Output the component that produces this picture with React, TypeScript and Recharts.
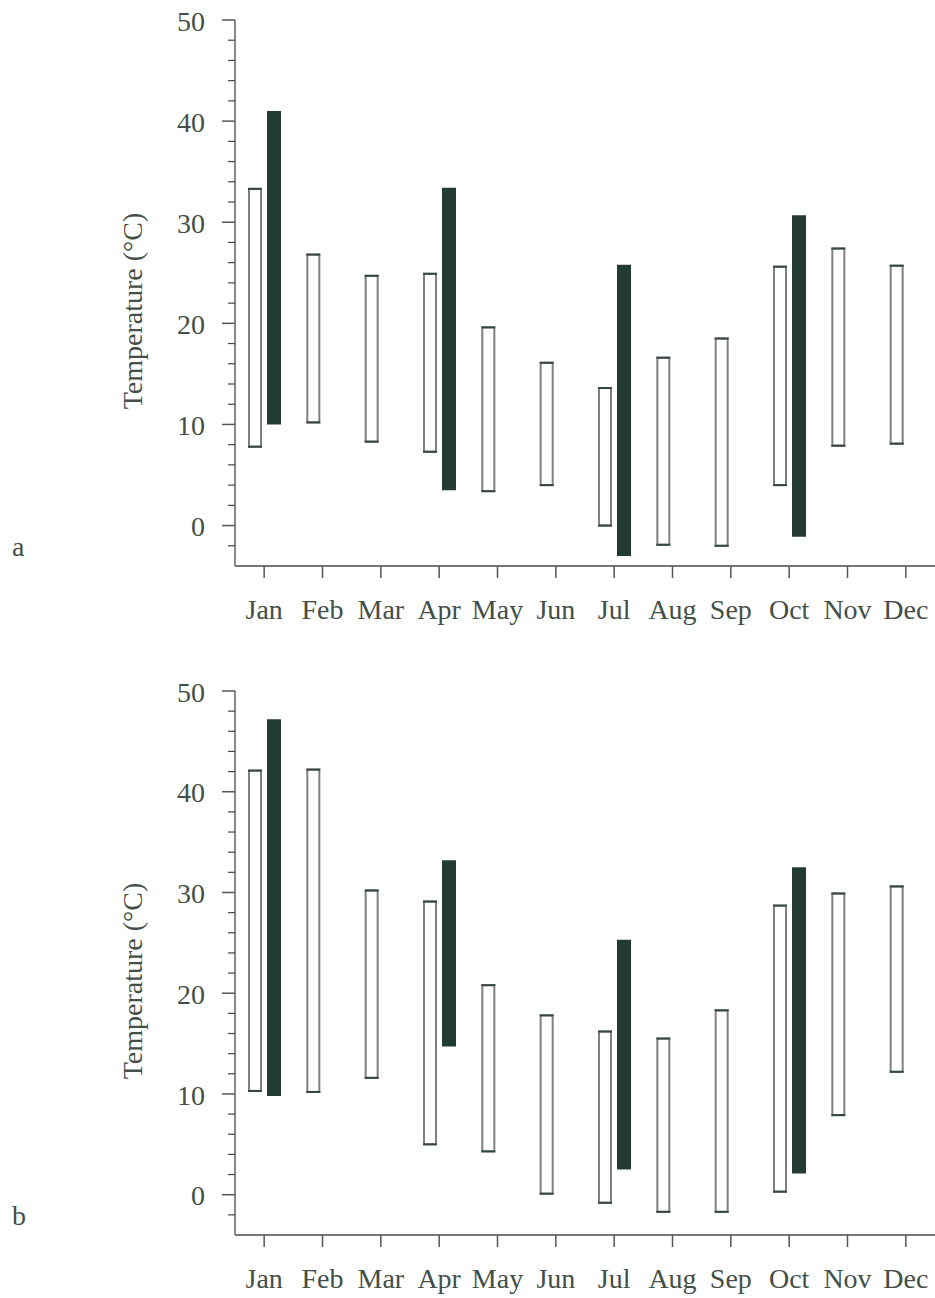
import React from 'react';
import { BarChart, Bar, XAxis, YAxis } from 'recharts';

// month categories
const months = ['Jan', 'Feb', 'Mar', 'Apr', 'May', 'Jun', 'Jul', 'Aug', 'Sep', 'Oct', 'Nov', 'Dec'];

// panel a - open bars (range low / high, °C)
const aOpenLow = [7.8, 10.2, 8.3, 7.3, 3.4, 4.0, 0.0, -1.9, -2.0, 4.0, 7.9, 8.1];
const aOpenHigh = [33.3, 26.8, 24.7, 24.9, 19.6, 16.1, 13.6, 16.6, 18.5, 25.6, 27.4, 25.7];
// panel a - filled bars
const aFilledLow = [10.0, null, null, 3.5, null, null, -3.0, null, null, -1.1, null, null];
const aFilledHigh = [41.0, null, null, 33.4, null, null, 25.8, null, null, 30.7, null, null];

// panel b - open bars
const bOpenLow = [10.3, 10.2, 11.6, 5.0, 4.3, 0.1, -0.8, -1.7, -1.7, 0.3, 7.9, 12.2];
const bOpenHigh = [42.1, 42.2, 30.2, 29.1, 20.8, 17.8, 16.2, 15.5, 18.3, 28.7, 29.9, 30.6];
// panel b - filled bars
const bFilledLow = [9.8, null, null, 14.7, null, null, 2.5, null, null, 2.1, null, null];
const bFilledHigh = [47.2, null, null, 33.2, null, null, 25.3, null, null, 32.5, null, null];

// y axis ticks
const majorTicks = [0, 10, 20, 30, 40, 50];
const minorTicks = [-2, 2, 4, 6, 8, 12, 14, 16, 18, 22, 24, 26, 28, 32, 34, 36, 38, 42, 44, 46, 48];
const yDomain = [-4, 50];

const TEXT = '#434f47';
const FILLED = '#233c33';
const FONT = "'Times New Roman', 'Liberation Serif', Tinos, 'DejaVu Serif', 'Noto Serif', serif";
const FS = 28;

const buildRows = (openLow: number[], openHigh: number[], fLow: (number | null)[], fHigh: (number | null)[]) =>
  months.map((m, i) => ({
    month: m,
    open: [openLow[i], openHigh[i]],
    filled: fLow[i] == null || fHigh[i] == null ? null : [fLow[i], fHigh[i]],
  }));

const dataA = buildRows(aOpenLow, aOpenHigh, aFilledLow, aFilledHigh);
const dataB = buildRows(bOpenLow, bOpenHigh, bFilledLow, bFilledHigh);

const allTicks = [...minorTicks, ...majorTicks].sort((a, b) => a - b);

// hollow bar: grey sides, dark caps
const OpenBar = (props: any) => {
  const { x, y, width, height } = props;
  if (!height || isNaN(height)) return null;
  return (
    <g>
      <rect x={x + 1} y={y} width={width - 2} height={height} fill="#fff" stroke="#808080" strokeWidth={2} />
      <line x1={x} x2={x + width} y1={y} y2={y} stroke="#34483f" strokeWidth={2} />
      <line x1={x} x2={x + width} y1={y + height} y2={y + height} stroke="#34483f" strokeWidth={2} />
    </g>
  );
};

const YTick = (props: any) => {
  const { x, y, payload } = props;
  const major = majorTicks.includes(payload.value);
  return (
    <g>
      <line x1={x - (major ? 13 : 7)} x2={x} y1={y} y2={y} stroke={major ? '#555' : '#444'} strokeWidth={major ? 1.5 : 1.2} />
      {major && (
        <text x={x - 30} y={y} dy="0.38em" textAnchor="end" fill={TEXT} fontSize={FS} fontFamily={FONT}>
          {payload.value}
        </text>
      )}
    </g>
  );
};

interface PanelProps {
  letter: string;
  data: any[];
  height: number;
  plotHeight: number;
}

const Panel: React.FC<PanelProps> = ({ letter, data, height, plotHeight }) => {
  const cy = 20 + plotHeight / 2 + 18;
  const renderLabel = () => (
    <g>
      <text
        x={142}
        y={cy}
        transform={`rotate(-90 142 ${cy})`}
        textAnchor="middle"
        fill={TEXT}
        fontSize={FS}
        fontFamily={FONT}
      >
        Temperature (°C)
      </text>
      <text x={12} y={20 + plotHeight - 10} fill={TEXT} fontSize={FS} fontFamily={FONT}>
        {letter}
      </text>
    </g>
  );

  return (
    <BarChart
      width={935}
      height={height}
      data={data}
      margin={{ top: 20, right: 0, bottom: 0, left: 0 }}
      barSize={14}
      barGap={5}
    >
      <XAxis
        dataKey="month"
        height={height - 20 - plotHeight}
        interval={0}
        tickSize={12}
        tickMargin={21}
        axisLine={{ stroke: '#777', strokeWidth: 2 }}
        tickLine={{ stroke: '#555', strokeWidth: 1.5 }}
        tick={{ fill: TEXT, fontSize: FS, fontFamily: FONT }}
      />
      <YAxis
        type="number"
        domain={yDomain}
        ticks={allTicks}
        interval={0}
        width={235}
        tickSize={0}
        tickMargin={0}
        tickLine={false}
        axisLine={{ stroke: '#888', strokeWidth: 2 }}
        tick={<YTick />}
        label={renderLabel}
      />
      <Bar dataKey="open" shape={<OpenBar />} isAnimationActive={false} />
      <Bar dataKey="filled" fill={FILLED} isAnimationActive={false} />
    </BarChart>
  );
};

export default function App() {
  return (
    <div
      style={{
        position: 'absolute',
        left: 0,
        top: 0,
        width: 935,
        height: 1298,
        background: '#fff',
        fontFamily: FONT,
        overflow: 'hidden',
      }}
    >
      <div style={{ position: 'absolute', left: 0, top: 0 }}>
        <Panel letter="a" data={dataA} height={640} plotHeight={546} />
      </div>
      <div style={{ position: 'absolute', left: 0, top: 671 }}>
        <Panel letter="b" data={dataB} height={627} plotHeight={544} />
      </div>
    </div>
  );
}
